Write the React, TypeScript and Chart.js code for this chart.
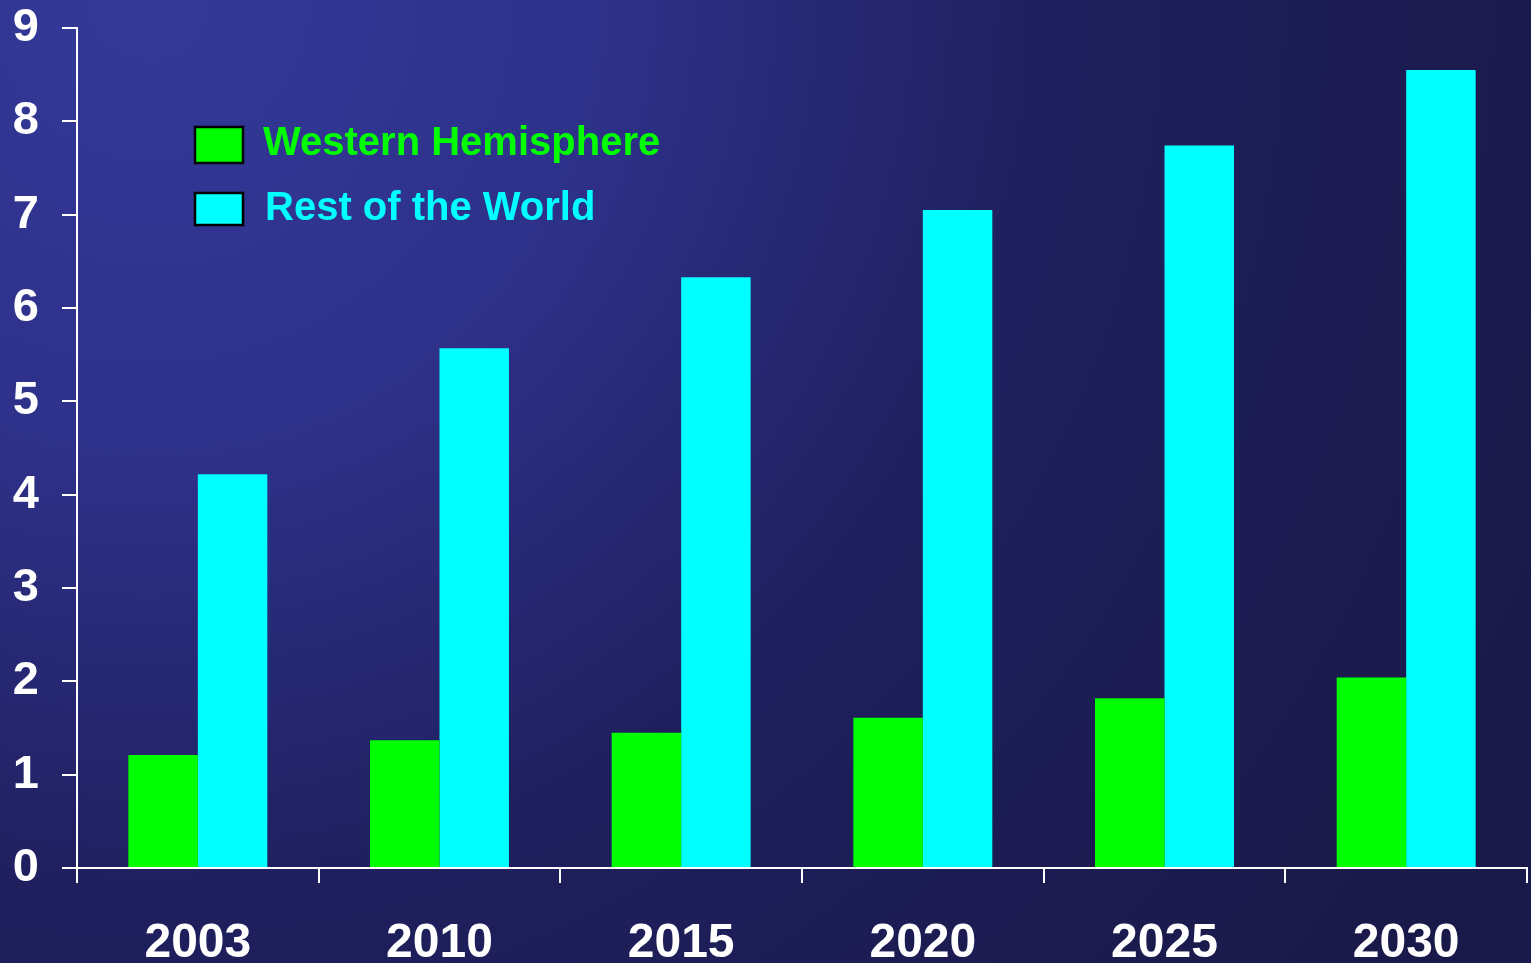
import React, { useEffect, useRef } from "react";
import { Chart, registerables } from "chart.js";

Chart.register(...registerables);

const categories = ["2003", "2010", "2015", "2020", "2025", "2030"];
const westernHemisphere = [1.21, 1.37, 1.45, 1.61, 1.82, 2.04];
const restOfWorld = [4.22, 5.57, 6.33, 7.05, 7.74, 8.55];
const seriesLabels = ["Western Hemisphere", "Rest of the World"];
const seriesColors = ["#00ff00", "#00ffff"];

const FONT = "'Liberation Sans', Arial, sans-serif";

const bgPlugin = {
  id: "bgGradient",
  beforeDraw(chart: any) {
    const { ctx, width, height } = chart;
    ctx.save();
    const g = ctx.createRadialGradient(150, 0, 0, 150, 0, 1500);
    g.addColorStop(0, "#343999");
    g.addColorStop(0.3, "#2e3189");
    g.addColorStop(0.6, "#1f1f5e");
    g.addColorStop(1, "#1a1a4a");
    ctx.fillStyle = g;
    ctx.fillRect(0, 0, width, height);
    ctx.restore();
  },
};

const legendPlugin = {
  id: "inlineLegend",
  afterDraw(chart: any) {
    const { ctx } = chart;
    const ds = chart.data.datasets;
    const boxes = [
      [195, 127, 48, 36],
      [195, 193, 48, 32],
    ];
    const baselines = [155, 220];
    const textX = [263, 265];
    ctx.save();
    ds.forEach((d: any, i: number) => {
      const [bx, by, bw, bh] = boxes[i];
      ctx.fillStyle = d.backgroundColor;
      ctx.fillRect(bx, by, bw, bh);
      ctx.strokeStyle = "#000000";
      ctx.lineWidth = 2.5;
      ctx.strokeRect(bx, by, bw, bh);
      ctx.font = `bold 40px ${FONT}`;
      ctx.fillStyle = d.backgroundColor;
      ctx.textBaseline = "alphabetic";
      ctx.textAlign = "left";
      ctx.fillText(d.label, textX[i], baselines[i]);
    });
    ctx.restore();
  },
};

export default function App() {
  const ref = useRef<HTMLCanvasElement>(null);
  useEffect(() => {
    if (!ref.current) return;
    const chart = new Chart(ref.current, {
      type: "bar",
      data: {
        labels: categories,
        datasets: [
          {
            label: seriesLabels[0],
            data: westernHemisphere,
            backgroundColor: seriesColors[0],
            borderWidth: 0,
            categoryPercentage: 0.575,
            barPercentage: 1,
          },
          {
            label: seriesLabels[1],
            data: restOfWorld,
            backgroundColor: seriesColors[1],
            borderWidth: 0,
            categoryPercentage: 0.575,
            barPercentage: 1,
          },
        ],
      },
      options: {
        animation: false,
        responsive: false,
        maintainAspectRatio: false,
        layout: { padding: { top: 28, right: 4, left: 0, bottom: 0 } },
        plugins: {
          legend: { display: false },
          tooltip: { enabled: false },
        },
        scales: {
          x: {
            afterFit: (s: any) => {
              s.height = 95;
              s.paddingLeft = 0;
              s.paddingRight = 0;
            },
            grid: {
              offset: true,
              drawOnChartArea: false,
              drawTicks: true,
              tickLength: 15,
              color: "#ffffff",
              lineWidth: 2,
            },
            border: { display: true, color: "#ffffff", width: 2 },
            ticks: {
              color: "#ffffff",
              font: { family: FONT, size: 48, weight: "bold" },
              padding: 32,
            },
          },
          y: {
            min: 0,
            max: 9,
            afterFit: (s: any) => {
              s.width = 77;
              s.paddingTop = 0;
              s.paddingBottom = 0;
            },
            grid: {
              drawOnChartArea: false,
              drawTicks: true,
              tickLength: 15,
              color: "#ffffff",
              lineWidth: 2,
            },
            border: { display: true, color: "#ffffff", width: 2 },
            ticks: {
              stepSize: 1,
              color: "#ffffff",
              font: { family: FONT, size: 47, weight: "bold" },
              padding: 23,
            },
          },
        },
      },
      plugins: [bgPlugin, legendPlugin],
    });
    return () => chart.destroy();
  }, []);
  return (
    <div style={{ position: "fixed", left: 0, top: 0, width: 1531, height: 963 }}>
      <canvas ref={ref} width={1531} height={963} style={{ display: "block" }} />
    </div>
  );
}
